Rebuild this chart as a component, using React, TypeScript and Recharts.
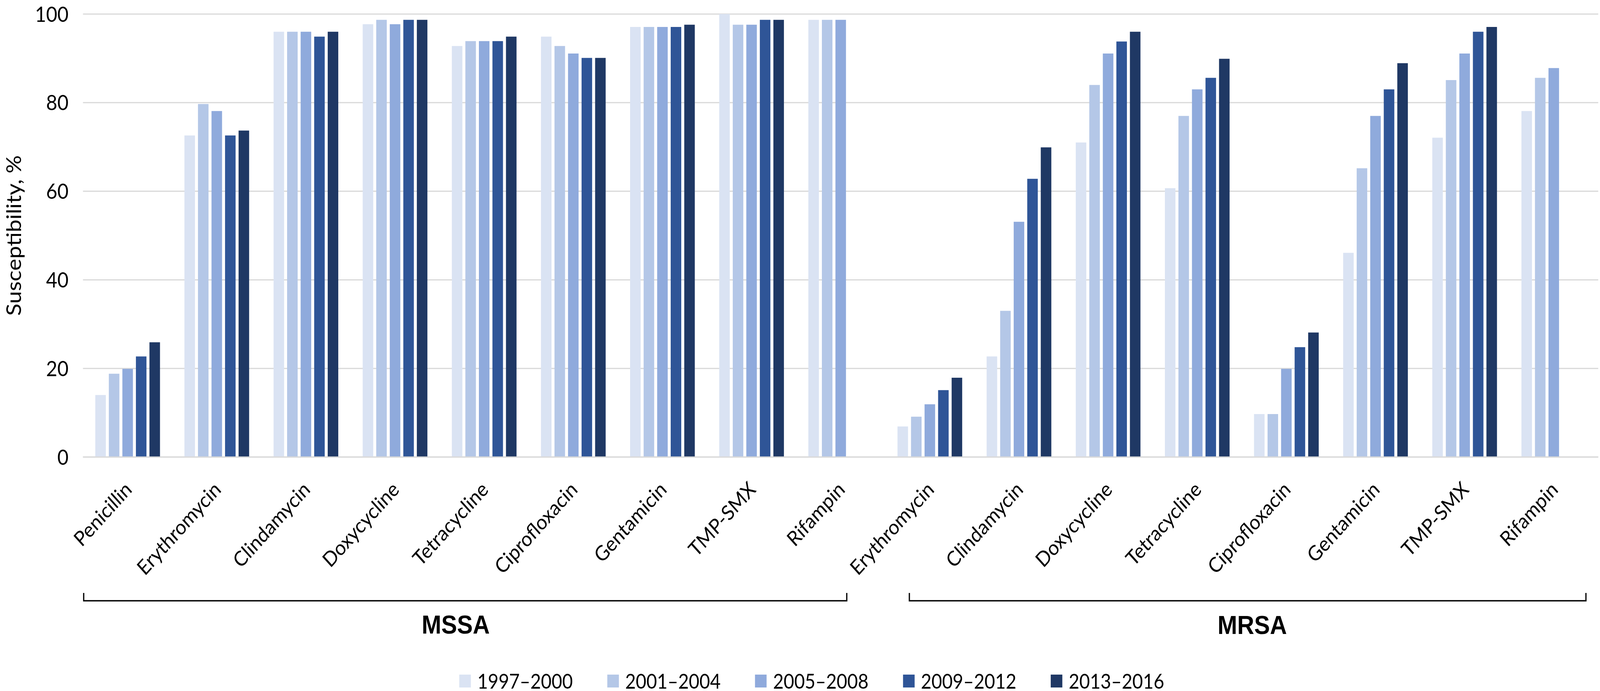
import { Bar, BarChart, CartesianGrid, Legend, XAxis, YAxis } from "recharts";

// categories (MSSA first, then MRSA)
const drugs = [
  "Penicillin", "Erythromycin", "Clindamycin", "Doxycycline", "Tetracycline",
  "Ciprofloxacin", "Gentamicin", "TMP-SMX", "Rifampin",
  "Erythromycin", "Clindamycin", "Doxycycline", "Tetracycline",
  "Ciprofloxacin", "Gentamicin", "TMP-SMX", "Rifampin",
];

const periods = ["1997–2000", "2001–2004", "2005–2008", "2009–2012", "2013–2016"];
const colors = ["#DAE3F3", "#B4C7E7", "#8FAADC", "#2F5597", "#1F3864"];

// susceptibility, % (null = not reported)
const s1997 = [14, 72.6, 96, 97.7, 92.8, 94.9, 97.1, 100, 98.7, 6.9, 22.7, 71, 60.7, 9.7, 46.1, 72.1, 78.1];
const s2001 = [18.8, 79.7, 96, 98.7, 93.9, 92.8, 97.1, 97.6, 98.7, 9.1, 33, 84, 77, 9.7, 65.2, 85.1, 85.6];
const s2005 = [19.9, 78.1, 96, 97.7, 93.9, 91.1, 97.1, 97.6, 98.7, 11.9, 53.1, 91.1, 83, 19.9, 77, 91.1, 87.8];
const s2009 = [22.7, 72.6, 94.9, 98.7, 93.9, 90.1, 97.1, 98.7, null, 15.1, 62.8, 93.8, 85.6, 24.8, 83, 96, null];
const s2013 = [25.9, 73.7, 96, 98.7, 94.9, 90.1, 97.6, 98.7, null, 17.9, 69.9, 96, 89.9, 28.1, 88.9, 97.1, null];

const yTicks = [0, 20, 40, 60, 80, 100];
const groupLabels = ["MSSA", "MRSA"];

const series = [s1997, s2001, s2005, s2009, s2013];
const data = drugs.map((drug, i) => {
  const row: Record<string, number | string | null> = { id: i, drug };
  series.forEach((s, k) => (row[`s${k}`] = s[i]));
  return row;
});

const W = 4550;
const H = 1769;
const TEXT = "#000000";

function DrugTick({ x, y, payload }: any) {
  return (
    <g transform={`translate(${x + 6},${y})`}>
      <text transform="rotate(-45)" textAnchor="end" dy="0.25em" fontSize={53} fill={TEXT}>
        {drugs[payload.value]}
      </text>
    </g>
  );
}

function PeriodLegend({ payload }: any) {
  return (
    <div style={{ display: "flex", justifyContent: "center", paddingLeft: 72, paddingTop: 18 }}>
      {(payload || []).map((p: any, i: number) => (
        <div key={p.value} style={{ display: "flex", alignItems: "center", marginRight: i < payload.length - 1 ? 98 : 0 }}>
          <span style={{ display: "inline-block", width: 33, height: 33, background: p.color, marginRight: 18 }} />
          <span style={{ fontSize: 52, lineHeight: "33px", color: TEXT }}>{p.value}</span>
        </div>
      ))}
    </div>
  );
}

export default function App() {
  // the window may be narrower than the design size; stretch the drawing to fill it
  const vw = typeof window !== "undefined" ? window.innerWidth : W;
  const vh = typeof window !== "undefined" ? window.innerHeight : H;
  const sx = vw / W;
  const sy = vh / H;
  return (
    <div
      style={{
        position: "absolute",
        left: 0,
        top: 0,
        width: W,
        height: H,
        background: "#fff",
        fontFamily: "Lato",
        transform: `scale(${sx}, ${sy})`,
        transformOrigin: "0 0",
      }}
    >
      <BarChart width={W} height={H} data={data} margin={{ top: 36, right: 5, bottom: 0, left: 0 }} barGap={8.5}>
        <CartesianGrid vertical={false} stroke="#D9D9D9" strokeWidth={3} />
        <XAxis
          dataKey="id"
          interval={0}
          height={539}
          tick={<DrugTick />}
          tickLine={false}
          tickSize={0}
          tickMargin={77}
          axisLine={{ stroke: "#D9D9D9", strokeWidth: 3 }}
        />
        <YAxis
          domain={[0, 100]}
          ticks={yTicks}
          width={236}
          axisLine={false}
          tickLine={false}
          tickSize={0}
          tickMargin={41}
          tick={{ fontSize: 55, fill: TEXT }}
          label={{
            value: "Susceptibility, %",
            angle: -90,
            position: "insideLeft",
            offset: 39,
            textAnchor: "middle",
            style: { textAnchor: "middle", fontSize: 58, fill: TEXT },
          }}
        />
        <Legend verticalAlign="bottom" height={60} content={<PeriodLegend />} />
        {periods.map((p, k) => (
          <Bar key={p} dataKey={`s${k}`} name={p} fill={colors[k]} barSize={30} isAnimationActive={false} />
        ))}
      </BarChart>
      <svg width={W} height={H} style={{ position: "absolute", left: 0, top: 0, pointerEvents: "none" }}>
        <path d="M238,1518 V1538 H2408 V1518" fill="none" stroke="#000" strokeWidth={3.5} />
        <path d="M2586,1518 V1538 H4510 V1518" fill="none" stroke="#000" strokeWidth={3.5} />
        <text x={1296} y={1622} textAnchor="middle" fontFamily="Liberation Sans" fontWeight="bold" fontSize={67} fill={TEXT}>
          {groupLabels[0]}
        </text>
        <text x={3561} y={1623} textAnchor="middle" fontFamily="Liberation Sans" fontWeight="bold" fontSize={67} fill={TEXT}>
          {groupLabels[1]}
        </text>
      </svg>
    </div>
  );
}
